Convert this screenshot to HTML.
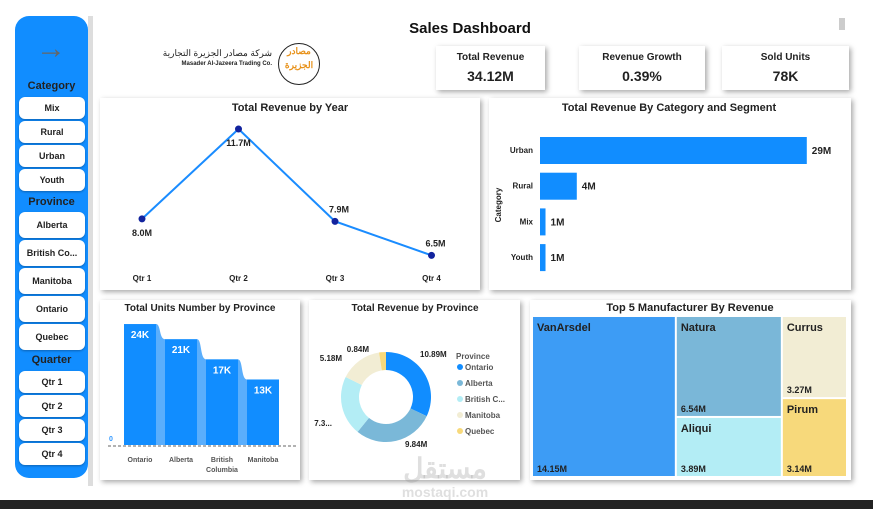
<!DOCTYPE html>
<html><head><meta charset="utf-8"><style>
body{margin:0;width:873px;height:509px;background:#fff;position:relative;overflow:hidden;font-family:"Liberation Sans","Noto Sans CJK SC",sans-serif}
.card{position:absolute;background:#fff;box-shadow:2px 2px 5px rgba(0,0,0,.35)}
.btn{position:absolute;left:19px;width:66px;height:22px;background:#fff;border-radius:6px;box-shadow:0 1px 2px rgba(0,0,0,.3);font-size:9px;font-weight:bold;color:#222;text-align:center;line-height:22px}
.sec{position:absolute;left:15px;width:73px;text-align:center;font-weight:bold;font-size:11px;color:#222}
.kpi .a{position:absolute;top:6px;width:100%;text-align:center;font-size:10px;font-weight:bold;color:#222}
.kpi .b{position:absolute;top:22px;width:100%;text-align:center;font-size:14px;font-weight:bold;color:#222}
svg text{font-family:"Liberation Sans",sans-serif;font-weight:bold}
</style></head><body>
<div style="position:absolute;left:88px;top:16px;width:5px;height:470px;background:#ddd"></div>
<div style="position:absolute;left:15px;top:16px;width:73px;height:462px;background:#118DFF;border-radius:14px"></div>
<div style="position:absolute;left:36px;top:32px;font-size:30px;color:#666">&#8594;</div>
<div class="sec" style="top:80px">Category</div>
<div class="btn" style="top:97px">Mix</div>
<div class="btn" style="top:121px">Rural</div>
<div class="btn" style="top:145px">Urban</div>
<div class="btn" style="top:169px">Youth</div>
<div class="sec" style="top:196px">Province</div>
<div class="btn" style="top:212px;height:26px;line-height:26px">Alberta</div>
<div class="btn" style="top:240px;height:26px;line-height:26px">British Co...</div>
<div class="btn" style="top:268px;height:26px;line-height:26px">Manitoba</div>
<div class="btn" style="top:296px;height:26px;line-height:26px">Ontario</div>
<div class="btn" style="top:324px;height:26px;line-height:26px">Quebec</div>
<div class="sec" style="top:354px">Quarter</div>
<div class="btn" style="top:371px">Qtr 1</div>
<div class="btn" style="top:395px">Qtr 2</div>
<div class="btn" style="top:419px">Qtr 3</div>
<div class="btn" style="top:443px">Qtr 4</div>

<div style="position:absolute;left:380px;top:20px;width:180px;text-align:center;font-weight:bold;font-size:15px;color:#111">Sales Dashboard</div>
<div style="position:absolute;left:140px;top:48px;font-size:9px;color:#222;text-align:right;width:132px;white-space:nowrap">شركة مصادر الجزيرة التجارية<div style="font-size:6px;font-weight:bold;margin-top:2px">Masader Al-Jazeera Trading Co.</div></div>
<div style="position:absolute;left:278px;top:43px;width:40px;height:40px;border:1.5px solid #222;border-radius:50%;color:#e8921a;font-size:9px;text-align:center;line-height:14px;font-weight:bold">مصادر<br>الجزيرة</div>
<div style="position:absolute;left:839px;top:18px;width:6px;height:12px;background:#ccc"></div>

<div class="card kpi" style="left:436px;top:46px;width:109px;height:44px"><div class="a">Total Revenue</div><div class="b">34.12M</div></div>
<div class="card kpi" style="left:579px;top:46px;width:126px;height:44px"><div class="a">Revenue Growth</div><div class="b">0.39%</div></div>
<div class="card kpi" style="left:722px;top:46px;width:127px;height:44px"><div class="a">Sold Units</div><div class="b">78K</div></div>

<div class="card" style="left:100px;top:98px;width:380px;height:192px"></div>
<div class="card" style="left:489px;top:98px;width:362px;height:192px"></div>
<div class="card" style="left:100px;top:300px;width:200px;height:180px"></div>
<div class="card" style="left:309px;top:300px;width:211px;height:180px"></div>
<div class="card" style="left:530px;top:300px;width:321px;height:180px"></div>
<div style="position:absolute;left:0;top:500px;width:873px;height:9px;background:#222"></div>

<svg id="s" width="873" height="509" style="position:absolute;left:0;top:0"></svg>
<script>
const quarters=["Qtr 1","Qtr 2","Qtr 3","Qtr 4"];
const quarterRevenue=[8.0,11.7,7.9,6.5];
const quarterLabels=["8.0M","11.7M","7.9M","6.5M"];
const segments=["Urban","Rural","Mix","Youth"];
const segmentRevenue=[29,4,0.6,0.6];
const segmentLabels=["29M","4M","1M","1M"];
const provincesUnits=["Ontario","Alberta","British Columbia","Manitoba"];
const unitsK=[24,21,17,13];
const provinces=["Ontario","Alberta","British C...","Manitoba","Quebec"];
const provRevenue=[10.89,9.84,7.3,5.18,0.84];
const provLabels=["10.89M","9.84M","7.3...","5.18M","0.84M"];
const manufacturers=["VanArsdel","Natura","Aliqui","Currus","Pirum"];
const manuRevenue=[14.15,6.54,3.89,3.27,3.14];
const manuColumns=[[0],[1,2],[3,4]];

const S=document.getElementById('s'),NS='http://www.w3.org/2000/svg';
function el(t,a,txt){const e=document.createElementNS(NS,t);for(const k in a)e.setAttribute(k,a[k]);if(txt!=null)e.textContent=txt;S.appendChild(e);return e;}
function tx(x,y,s,size,anchor,fill,name){const e=el('text',{x:x,y:y,'font-size':size,'text-anchor':anchor||'middle',fill:fill||'#222'},s);

return e;}

tx(290,111,"Total Revenue by Year",11,'middle','#222','line-chart-title');
const lx=i=>142+i*96.5, ly=v=>129+(11.7-v)*24.3;
let d=quarterRevenue.map((v,i)=>(i?'L':'M')+lx(i)+','+ly(v)).join('');
const ln=el('path',{d:d,fill:'none',stroke:'#1a8cff','stroke-width':2});


quarterRevenue.forEach((v,i)=>{const c=el('circle',{cx:lx(i),cy:ly(v),r:3.5,fill:'#12239e'});


const below=i===0||i===1;tx(lx(i)+(i>1?4:0),ly(v)+(below?17:-9),quarterLabels[i],9,'middle','#222','data-label');
tx(lx(i),281,quarters[i],8,'middle','#222','x-tick');});

tx(669,111,"Total Revenue By Category and Segment",11,'middle','#222','bar-chart-title');
const bx=v=>540+v*9.2;
const yt=el('text',{x:0,y:0,'font-size':8,'text-anchor':'middle',fill:'#222',transform:'translate(501,205) rotate(-90)'},'Category');


segments.forEach((s,i)=>{const cy=150+i*35.7;
const r=el('rect',{x:540,y:cy-13,width:bx(segmentRevenue[i])-540,height:27,fill:'#118DFF'});


tx(533,cy+3,s,8,'end','#222','y-tick');
tx(bx(segmentRevenue[i])+5,cy+4,segmentLabels[i],10,'start','#222','bar-value');});

tx(200,311,"Total Units Number by Province",10,'middle','#222','units-chart-title');
const base=445,uy=v=>base-v*5.04,ux=i=>124+i*41;
unitsK.forEach((v,i)=>{if(i<unitsK.length-1){const x1=ux(i)+32,x2=ux(i+1),y1=uy(v),y2=uy(unitsK[i+1]);
const rb=el('path',{d:`M${x1},${y1} C${x1+5},${y1} ${x1+3},${y2} ${x2},${y2} L${x2},${base} L${x1},${base}Z`,fill:'#5aaefc'});

}});
unitsK.forEach((v,i)=>{const r=el('rect',{x:ux(i),y:uy(v),width:32,height:base-uy(v),fill:'#118DFF'});


tx(ux(i)+16,uy(v)+14,v+'K',10,'middle','#fff','bar-value');
const nm=provincesUnits[i];
if(nm==="British Columbia"){tx(ux(i)+16,462,"British",7,'middle','#555','x-tick');tx(ux(i)+16,472,"Columbia",7,'middle','#555','x-tick');}
else tx(ux(i)+16,462,nm,7,'middle','#555','x-tick');});
const bl=el('line',{x1:108,x2:296,y1:base+1,y2:base+1,stroke:'#666','stroke-dasharray':'3,2','stroke-width':1});


tx(111,441,"0",7,'middle','#39f','y-tick');

tx(415,311,"Total Revenue by Province",10,'middle','#222','donut-chart-title');
const cx=386,cy=397,R=45,r0=27,cols=['#118DFF','#7ab8d8','#b3edf5','#f2edd4','#f7d97b'];
const tot=provRevenue.reduce((a,b)=>a+b,0);let a0=0;
const lpos=[[420,357,'start'],[405,447,'start'],[332,426,'end'],[342,361,'end'],[369,352,'end']];
provRevenue.forEach((v,i)=>{const a1=a0+v/tot*2*Math.PI;const p=(a,r)=>[cx+r*Math.sin(a),cy-r*Math.cos(a)];
const [x1,y1]=p(a0,R),[x2,y2]=p(a1,R),[x3,y3]=p(a1,r0),[x4,y4]=p(a0,r0);const lg=a1-a0>Math.PI?1:0;
const sl=el('path',{d:`M${x1},${y1}A${R},${R} 0 ${lg} 1 ${x2},${y2}L${x3},${y3}A${r0},${r0} 0 ${lg} 0 ${x4},${y4}Z`,fill:cols[i]});


tx(lpos[i][0],lpos[i][1],provLabels[i],8,lpos[i][2],'#222','slice-label');
a0=a1;
const ly2=370+i*16;const dot=el('circle',{cx:460,cy:ly2-3,r:3,fill:cols[i]});


tx(465,ly2,provinces[i],8,'start','#555','legend-entry');});
tx(456,359,"Province",8,'start','#555','legend-title');

tx(690,311,"Top 5 Manufacturer By Revenue",11,'middle','#222','treemap-title');
const tmX=533,tmY=317,tmW=315,tmH=161,tcol=['#3d9cf5','#7ab7d8','#b3edf5','#f2edd4','#f7d97b'];
const mtot=manuRevenue.reduce((a,b)=>a+b,0);
let cxp=tmX,rem=mtot,remW=tmW;
manuColumns.forEach(col=>{const cs=col.reduce((a,j)=>a+manuRevenue[j],0);const w=cs/rem*remW;let yy=tmY;
col.forEach(j=>{const h=manuRevenue[j]/cs*tmH;
const r=el('rect',{x:cxp,y:yy,width:w-2,height:h-2,fill:tcol[j]});


tx(cxp+4,yy+14,manufacturers[j],11,'start','#222','tile-name');
tx(cxp+4,yy+h-6,manuRevenue[j].toFixed(2)+'M',9,'start','#222','tile-value');
yy+=h;});
cxp+=w;rem-=cs;remW-=w;});

tx(445,478,"مستقل",28,'middle','rgba(150,150,150,.3)','watermark');
tx(445,497,"mostaqi.com",14,'middle','rgba(150,150,150,.3)','watermark-url');
</script>
</body></html>
